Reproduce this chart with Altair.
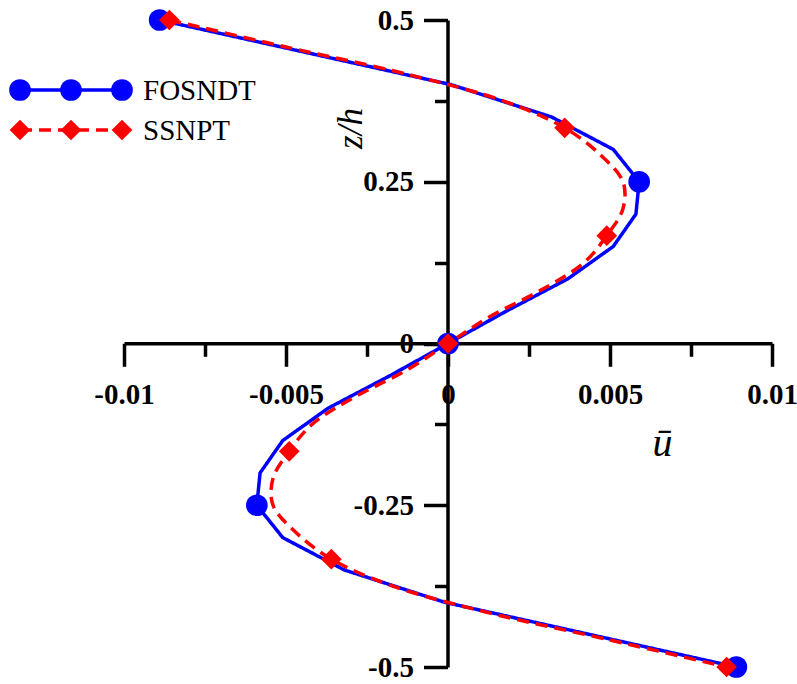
import altair as alt
import pandas as pd

# Axial displacement profiles through the thickness
z_fosndt = [0.5, 0.45, 0.4, 0.35, 0.3, 0.25, 0.2, 0.15, 0.1, 0.05, 0.0,
            -0.05, -0.1, -0.15, -0.2, -0.25, -0.3, -0.35, -0.4, -0.45, -0.5]
u_fosndt = [-0.0089, -0.0044, 0.0001, 0.0032, 0.0051, 0.0059, 0.0058, 0.0051, 0.0037, 0.0018, 0.0,
            -0.0018, -0.0037, -0.0051, -0.0058, -0.0059, -0.0051, -0.0032, -0.0001, 0.0044, 0.0089]

z_ssnpt = [0.5, 0.4583, 0.4167, 0.375, 0.3333, 0.2917, 0.25, 0.2083, 0.1667, 0.125, 0.0833, 0.0417, 0.0,
           -0.0417, -0.0833, -0.125, -0.1667, -0.2083, -0.25, -0.2917, -0.3333, -0.375, -0.4167, -0.4583, -0.5]
u_ssnpt = [-0.0086, -0.0050, -0.0013, 0.0017, 0.0036, 0.0047, 0.0054, 0.0054, 0.0049, 0.0042, 0.0029, 0.0013, 0.0,
           -0.0013, -0.0029, -0.0042, -0.0049, -0.0054, -0.0054, -0.0047, -0.0036, -0.0017, 0.0013, 0.0050, 0.0086]

series_names = ["FOSNDT", "SSNPT"]
marker_every = [5, 4]

x_ticks = [-0.01, -0.0075, -0.005, -0.0025, 0.0, 0.0025, 0.005, 0.0075, 0.01]
y_ticks = [-0.5, -0.375, -0.25, -0.125, 0.0, 0.125, 0.25, 0.375, 0.5]

BLUE = "#0000ff"
RED = "#ff0000"
SERIF = "Liberation Serif"


def frame(name, z, u, every):
    n = len(z)
    return pd.DataFrame({
        "series": [name] * n,
        "z": z,
        "u": u,
        "idx": list(range(n)),
        "marker": [i % every == 0 for i in range(n)],
    })


fos = frame(series_names[0], z_fosndt, u_fosndt, marker_every[0])
ssn = frame(series_names[1], z_ssnpt, u_ssnpt, marker_every[1])


def major(step):
    return f"abs(datum.value/{step} - round(datum.value/{step})) < 1e-6"


x_axis = alt.Axis(
    values=x_ticks, orient="bottom", offset=-323.7, grid=False,
    domainColor="black", domainWidth=3.5,
    tickColor="black", tickWidth=3.5,
    tickSize={"condition": {"test": major(0.005), "value": 23}, "value": 13},
    labelExpr=f"{major(0.005)} ? '' + datum.value : ''",
    labelFont=SERIF, labelFontWeight="bold", labelFontSize=29, labelColor="black",
    labelPadding=14, labelOverlap=False, labelFlush=False,
    title="ū", titleFont=SERIF, titleFontStyle="italic", titleFontWeight="normal",
    titleFontSize=40, titleColor="black", titleAngle=0, titleAlign="center",
    titleBaseline="middle", titleX=538, titleY=100,
)

y_axis = alt.Axis(
    values=y_ticks, orient="left", offset=-323.5, grid=False,
    domainColor="black", domainWidth=3.5,
    tickColor="black", tickWidth=3.5,
    tickSize={"condition": {"test": major(0.25), "value": 24}, "value": 13},
    labelExpr=f"{major(0.25)} ? '' + datum.value : ''",
    labelFont=SERIF, labelFontWeight="bold", labelFontSize=29, labelColor="black",
    labelPadding=10, labelOverlap=False, labelFlush=False,
    title="z/h", titleFont=SERIF, titleFontStyle="italic", titleFontWeight="normal",
    titleFontSize=35, titleColor="black", titleAngle=270, titleAlign="center",
    titleBaseline="middle", titleX=-97, titleY=108,
)

x_enc = alt.X("u:Q", scale=alt.Scale(domain=[-0.01, 0.01], nice=False, zero=False), axis=x_axis)
y_enc = alt.Y("z:Q", scale=alt.Scale(domain=[-0.5, 0.5], nice=False, zero=False), axis=y_axis)


def curve(df, color, dash, interp, shape, size):
    line = alt.Chart(df).mark_line(
        color=color, strokeWidth=3.5, strokeDash=dash, interpolate=interp
    ).encode(x=x_enc, y=y_enc, order="idx:Q")
    pts = alt.Chart(df).transform_filter("datum.marker").mark_point(
        filled=True, color=color, opacity=1, shape=shape, size=size
    ).encode(x=x_enc, y=y_enc)
    return line, pts


fos_line, fos_pts = curve(fos, BLUE, [1, 0], "linear", "circle", 470)
ssn_line, ssn_pts = curve(ssn, RED, [12, 7], "catmull-rom", "diamond", 430)

# Hand-built legend in the upper-left corner
legend_layers = []
legend_rows = [
    (series_names[0], BLUE, "circle", 470, [1, 0], 70),
    (series_names[1], RED, "diamond", 430, [12, 7], 110),
]
for name, color, shape, size, dash, ypix in legend_rows:
    src = alt.Chart(pd.DataFrame({"series": [name]}))
    legend_layers.append(
        src.mark_rule(color=color, strokeWidth=3.5, strokeDash=dash).encode(
            x=alt.value(-104), x2=alt.value(-2), y=alt.value(ypix)
        )
    )
    for px in [-104, -53, -2]:
        legend_layers.append(
            src.mark_point(filled=True, color=color, opacity=1, shape=shape, size=size).encode(
                x=alt.value(px), y=alt.value(ypix)
            )
        )
    legend_layers.append(
        src.mark_text(align="left", baseline="middle", font=SERIF, fontSize=29, color="black").encode(
            x=alt.value(19), y=alt.value(ypix + 1), text="series:N"
        )
    )

chart = alt.layer(
    fos_line, ssn_line, fos_pts, ssn_pts, *legend_layers
).properties(
    width=648,
    height=647,
    autosize=alt.AutoSizeParams(type="none"),
    padding={"left": 124, "top": 20, "right": 25, "bottom": 17},
    background="white",
).configure_view(strokeWidth=0)

chart.save("out.html", embed_options={"renderer": "svg", "actions": False})
